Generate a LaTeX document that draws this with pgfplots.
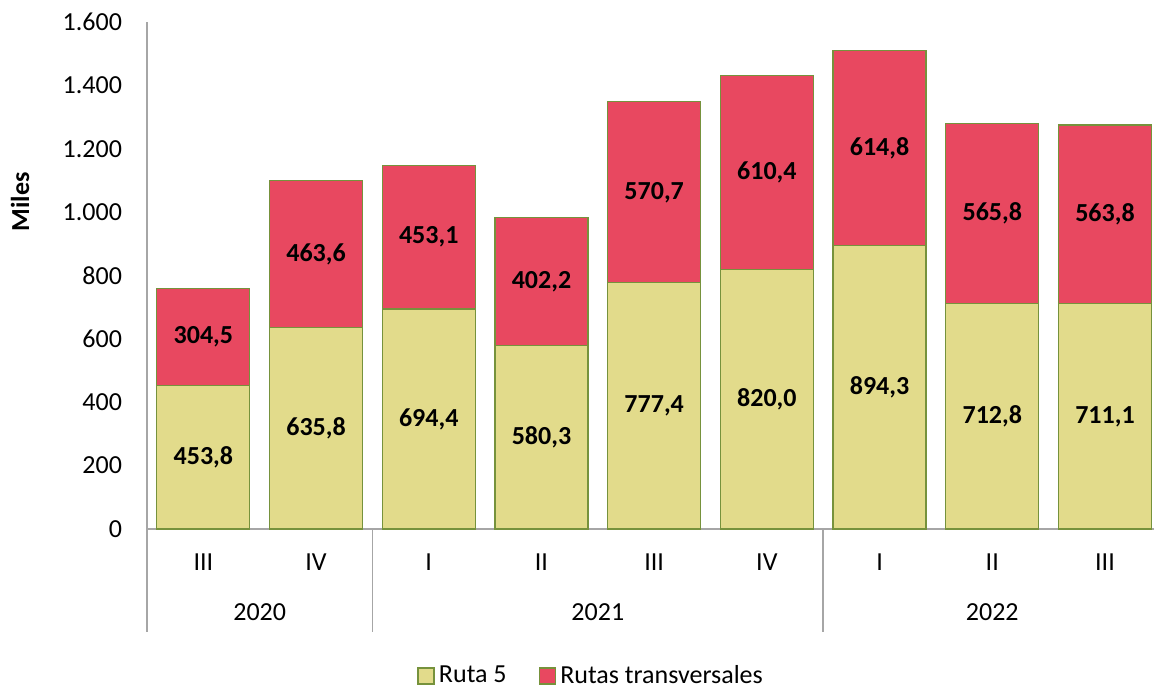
\documentclass[border=0pt]{standalone}
\usepackage{fontspec}
\setmainfont{Carlito}
\usepackage{pgfplots}
\usepackage{pgfplotstable}
\pgfplotsset{compat=1.18}
\definecolor{rutaY}{RGB}{226,219,139}
\definecolor{rutaR}{RGB}{232,72,96}
\definecolor{edgeG}{RGB}{118,146,60}
\definecolor{axgray}{RGB}{166,166,166}

\pgfplotstableread{
x r5 rt
0 453.8 304.5
1 635.8 463.6
2 694.4 453.1
3 580.3 402.2
4 777.4 570.7
5 820.0 610.4
6 894.3 614.8
7 712.8 565.8
8 711.1 563.8
}\data

\begin{document}
\begin{tikzpicture}[font=\fontsize{13}{16}\selectfont]
\useasboundingbox (-73.5pt,-79pt) rectangle (503.5pt,264.5pt);
\begin{axis}[at={(0,0)}, anchor=south west,
  scale only axis, width=503.5pt, height=253.5pt,
  ybar stacked, bar width=46.5pt,
  xmin=-0.5, xmax=8.435, ymin=0, ymax=1600,
  xtick={0,...,8}, xticklabels={III,IV,I,II,III,IV,I,II,III},
  ytick={0,200,...,1600},
  major tick length=0,
  axis x line*=bottom, axis y line*=left,
  axis line style={-, axgray, line width=0.8pt},
  clip=false,
  yticklabel style={xshift=-9pt, /pgf/number format/.cd, use comma, 1000 sep={.}, assume math mode=true},
  xticklabel style={anchor=center, yshift=-16.5pt},
  nodes near coords, point meta=rawy,
  every node near coord/.append style={anchor=center,
    font=\fontsize{13}{16}\selectfont\bfseries,
    /pgf/number format/.cd, fixed, fixed zerofill, precision=1, use comma, 1000 sep={.}, assume math mode=true},
  legend columns=2,
  legend style={at={(axis description cs:0.442,-0.29)}, anchor=center, draw=none,
    /tikz/every even column/.append style={column sep=14pt}},
  legend image code/.code={\draw[#1, line width=0.8pt] (0pt,-4pt) rectangle (8pt,4pt);},
]
\addplot[fill=rutaY, draw=edgeG, line width=0.6pt] table[x=x, y=r5]{\data};
\addplot[fill=rutaR, draw=edgeG, line width=0.6pt] table[x=x, y=rt]{\data};
\legend{Ruta 5, Rutas transversales}
\draw[axgray, line width=0.8pt] (axis cs:-0.5,0) -- ++(0pt,-51.5pt);
\draw[axgray, line width=0.8pt] (axis cs:1.5,0) -- ++(0pt,-51.5pt);
\draw[axgray, line width=0.8pt] (axis cs:5.5,0) -- ++(0pt,-51.5pt);
\node at (axis cs:0.5,0) [yshift=-41.5pt] {2020};
\node at (axis cs:3.5,0) [yshift=-41.5pt] {2021};
\node at (axis cs:7,0) [yshift=-41.5pt] {2022};
\node[xshift=-63.5pt, rotate=90, font=\fontsize{13}{16}\selectfont\bfseries] at (rel axis cs:0,0.645) {Miles};
\end{axis}
\end{tikzpicture}
\end{document}
